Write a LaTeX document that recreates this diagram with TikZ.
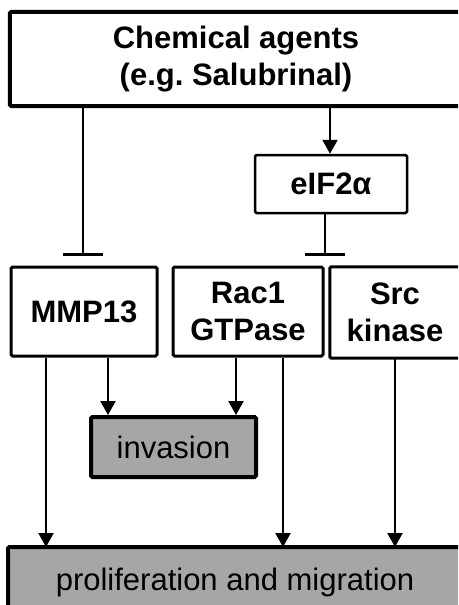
\documentclass[tikz,border=0pt]{standalone}
\usepackage{fontspec}
\setmainfont{Liberation Sans}
\usetikzlibrary{arrows.meta,calc}
\definecolor{boxgray}{RGB}{166,166,166}
\begin{document}
\begin{tikzpicture}[x=1pt,y=-1pt,
  box/.style={draw, rectangle, rounded corners=1.5pt, fill=white, align=center, inner sep=0pt,
     font=\fontsize{31}{37}\selectfont\bfseries},
  openbox/.style={box, draw=none},
  outbox/.style={box, fill=boxgray, font=\fontsize{31}{37}\selectfont, line width=4pt},
  conn/.style={line width=2.2pt},
  act/.style={conn, -{Triangle[width=15pt,length=14pt]}},
  inh/.style={conn, -{Bar[width=40pt,line width=2.2pt]}}]
\useasboundingbox (0,0) rectangle (458,605);
\clip (0,0) rectangle (458,605);
\node[openbox, minimum width=460pt, minimum height=94pt] (chem) at (240,59)
  {\hspace*{-8pt}Chemical agents\\\hspace*{-8pt}(e.g.\ Salubrinal)};
\draw[line width=4pt, rounded corners=1.5pt] (chem.north east) -- (chem.north west) -- (chem.south west) -- (chem.south east);
\node[box, line width=2.5pt, minimum width=152pt, minimum height=58pt] (eif) at (331,184) {eIF2α};
\node[box, line width=3pt, minimum width=146pt, minimum height=89pt] (mmp) at (84,311.5) {MMP13};
\node[openbox, minimum width=138pt, minimum height=91pt] (src) at (399,312.5) {\hspace*{-8pt}Src\\\hspace*{-8pt}kinase};
\draw[line width=3pt, rounded corners=1.5pt] (src.north east) -- (src.north west) -- (src.south west) -- (src.south east);
\node[box, line width=3pt, minimum width=150pt, minimum height=89pt] (rac) at (248,311.5) {Rac1\\GTPase};
\node[outbox, minimum width=165pt, minimum height=60pt] (inv) at (173.5,447) {invasion};
\node[outbox, draw=none, minimum width=460pt, minimum height=66pt] (prol) at (240,582) {\hspace*{-10pt}proliferation and migration};
\draw[line width=4pt, rounded corners=1.5pt] (prol.north east) -- (prol.north west) -- (prol.south west);
% connectors
\draw[inh] (chem.south -| 83,0) -- ([yshift=10pt]mmp.north -| 83,0);
\draw[act] (chem.south -| 330,0) -- (eif.north -| 330,0);
\draw[inh] (eif.south -| 325,0) -- ([yshift=10pt]rac.north -| 325,0);
\draw[act] (mmp.south -| 46,0) -- (prol.north -| 46,0);
\draw[act] (mmp.south -| 108,0) -- (inv.north -| 108,0);
\draw[act] (rac.south -| 236,0) -- (inv.north -| 236,0);
\draw[act] (rac.south -| 283,0) -- (prol.north -| 283,0);
\draw[act] (src.south -| 395,0) -- (prol.north -| 395,0);
\end{tikzpicture}
\end{document}
